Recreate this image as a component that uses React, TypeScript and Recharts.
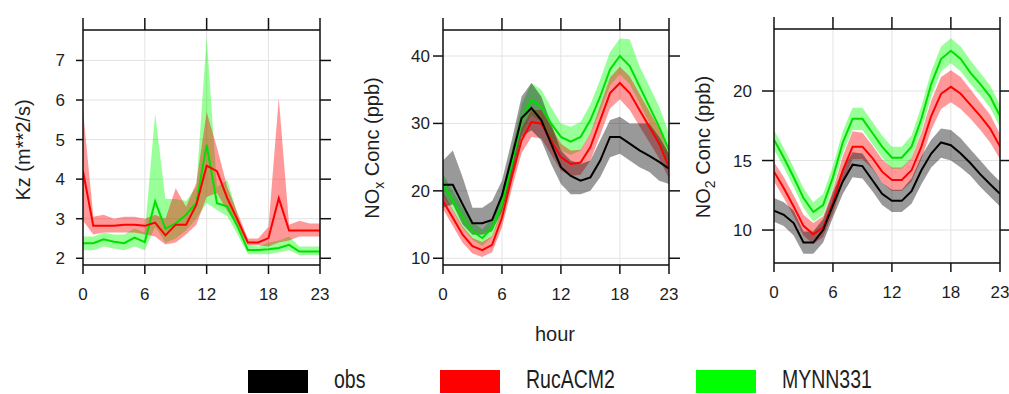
import React from 'react';
import { ComposedChart, Area, Line, XAxis, YAxis, CartesianGrid } from 'recharts';

const hours = [0, 1, 2, 3, 4, 5, 6, 7, 8, 9, 10, 11, 12, 13, 14, 15, 16, 17, 18, 19, 20, 21, 22, 23];
const xTicks = [0, 6, 12, 18, 23];
const kzTicks = [2, 3, 4, 5, 6, 7];
const noxTicks = [10, 20, 30, 40];
const no2Ticks = [10, 15, 20];

// Kz panel
const kzRuc = [4.2, 2.82, 2.82, 2.82, 2.85, 2.85, 2.82, 2.9, 2.58, 2.85, 2.85, 3.35, 4.34, 4.2, 3.52, 2.97, 2.4, 2.4, 2.51, 3.52, 2.7, 2.7, 2.7, 2.7];
const kzRucLo = [2.95, 2.6, 2.65, 2.65, 2.65, 2.65, 2.6, 2.55, 2.35, 2.4, 2.6, 2.85, 3.55, 3.65, 3.2, 2.8, 2.33, 2.33, 2.3, 2.4, 2.45, 2.55, 2.55, 2.55];
const kzRucHi = [5.75, 3.05, 3.1, 3.0, 3.05, 3.05, 3.0, 3.1, 3.0, 3.77, 3.3, 3.9, 5.7, 4.8, 3.8, 3.15, 2.5, 2.5, 2.8, 6.05, 2.85, 2.95, 2.88, 2.88];
const kzMynn = [2.38, 2.38, 2.48, 2.42, 2.38, 2.52, 2.41, 3.44, 2.75, 2.88, 3.1, 3.4, 4.87, 3.39, 3.31, 2.8, 2.21, 2.21, 2.23, 2.26, 2.34, 2.17, 2.17, 2.17];
const kzMynnLo = [2.2, 2.2, 2.3, 2.25, 2.2, 2.3, 2.2, 2.8, 2.39, 2.5, 2.7, 3.0, 3.4, 3.22, 3.06, 2.6, 2.1, 2.1, 2.1, 2.15, 2.2, 2.08, 2.08, 2.08];
const kzMynnHi = [2.55, 2.55, 2.65, 2.6, 2.6, 2.75, 2.65, 5.65, 3.5, 3.5, 3.45, 3.8, 7.6, 3.81, 3.98, 3.1, 2.35, 2.3, 2.4, 2.45, 2.55, 2.3, 2.3, 2.3];

// NOx panel
const noxObs = [20.9, 20.9, 18.0, 15.2, 15.2, 15.7, 19.3, 25.0, 30.8, 32.3, 30.5, 27.0, 23.5, 22.2, 21.5, 22.0, 24.5, 28.0, 28.0, 27.0, 26.0, 25.2, 24.3, 23.3];
const noxObsLo = [17.5, 18.0, 15.0, 13.5, 13.5, 14.0, 17.0, 22.0, 28.0, 29.0, 27.5, 24.0, 21.0, 19.5, 19.5, 20.0, 22.0, 25.0, 25.5, 24.5, 23.5, 22.8, 21.5, 21.0];
const noxObsHi = [24.5, 26.0, 22.0, 17.5, 17.5, 18.5, 21.5, 27.5, 34.0, 36.0, 34.0, 30.0, 26.0, 24.5, 24.0, 24.5, 27.5, 30.5, 31.0, 30.0, 30.0, 30.0, 28.0, 25.5];
const noxRuc = [18.5, 16.0, 13.5, 11.8, 11.2, 12.0, 16.0, 22.0, 27.5, 30.2, 30.0, 27.5, 25.0, 24.0, 24.2, 26.5, 30.5, 34.5, 36.0, 34.5, 32.0, 29.5, 27.0, 23.5];
const noxRucLo = [17.3, 14.8, 12.3, 10.7, 10.2, 10.9, 14.6, 20.3, 25.6, 28.0, 27.8, 25.4, 23.0, 22.2, 22.4, 24.5, 28.3, 32.2, 33.6, 32.0, 29.6, 27.2, 24.8, 21.8];
const noxRucHi = [19.8, 17.2, 14.7, 13.0, 12.4, 13.3, 17.4, 23.6, 29.3, 32.0, 32.0, 29.5, 27.0, 26.0, 26.1, 28.5, 32.7, 36.8, 38.4, 37.0, 34.4, 31.8, 29.2, 25.3];
const noxMynn = [21.0, 18.5, 16.0, 14.0, 13.0, 14.5, 18.0, 24.0, 30.5, 33.5, 32.5, 30.0, 28.0, 27.3, 28.0, 30.5, 34.0, 38.0, 40.0, 38.5, 35.5, 32.5, 29.5, 26.0];
const noxMynnLo = [19.5, 17.0, 14.5, 12.7, 11.8, 13.2, 16.5, 22.2, 28.5, 31.2, 30.2, 27.8, 26.0, 25.3, 26.0, 28.4, 31.8, 35.6, 37.3, 35.8, 33.0, 30.0, 27.0, 24.0];
const noxMynnHi = [22.5, 20.0, 17.5, 15.4, 14.3, 15.9, 19.7, 26.0, 32.8, 36.0, 35.0, 32.4, 30.0, 29.5, 30.2, 32.8, 36.5, 40.6, 42.6, 42.5, 38.5, 35.5, 32.5, 28.5];

// NO2 panel
const no2Obs = [11.4, 11.1, 10.5, 9.1, 9.1, 10.0, 11.8, 13.5, 14.7, 14.6, 13.6, 12.6, 12.1, 12.1, 12.8, 14.3, 15.5, 16.3, 16.1, 15.5, 14.8, 14.0, 13.3, 12.6];
const no2ObsLo = [10.6, 10.3, 9.6, 8.3, 8.3, 9.1, 10.9, 12.6, 13.8, 13.7, 12.8, 11.8, 11.3, 11.3, 11.9, 13.3, 14.5, 15.2, 15.0, 14.5, 13.9, 13.1, 12.4, 11.7];
const no2ObsHi = [12.3, 12.0, 11.4, 9.9, 9.9, 10.8, 12.7, 14.4, 15.6, 15.5, 14.5, 13.4, 12.9, 12.9, 13.7, 15.3, 16.5, 17.3, 17.2, 16.6, 15.8, 15.0, 14.2, 13.5];
const no2Ruc = [14.2, 13.0, 11.7, 10.3, 9.7, 10.2, 12.0, 14.3, 16.0, 16.0, 15.2, 14.2, 13.6, 13.6, 14.3, 16.0, 18.2, 19.8, 20.3, 19.8, 19.0, 18.2, 17.3, 16.0];
const no2RucLo = [13.5, 12.3, 11.0, 9.6, 9.0, 9.5, 11.2, 13.4, 15.1, 15.1, 14.4, 13.4, 12.8, 12.8, 13.5, 15.1, 17.2, 18.7, 19.2, 18.7, 18.0, 17.2, 16.3, 15.1];
const no2RucHi = [14.9, 13.8, 12.5, 11.1, 10.5, 11.0, 12.9, 15.3, 17.1, 17.0, 16.1, 15.1, 14.5, 14.5, 15.2, 17.0, 19.3, 21.0, 21.5, 21.0, 20.1, 19.2, 18.3, 16.9];
const no2Mynn = [16.5, 15.2, 13.8, 12.3, 11.3, 11.8, 13.8, 16.3, 18.0, 18.0, 17.0, 16.0, 15.2, 15.2, 16.0, 18.0, 20.5, 22.3, 22.9, 22.3, 21.3, 20.5, 19.6, 18.2];
const no2MynnLo = [15.8, 14.5, 13.1, 11.6, 10.6, 11.1, 13.0, 15.5, 17.2, 17.2, 16.2, 15.2, 14.4, 14.4, 15.2, 17.1, 19.6, 21.4, 22.0, 21.4, 20.5, 19.7, 18.8, 17.4];
const no2MynnHi = [17.2, 15.9, 14.5, 13.0, 12.0, 12.6, 14.6, 17.1, 18.8, 18.8, 17.8, 16.8, 16.0, 16.0, 16.8, 18.9, 21.4, 23.2, 23.8, 23.2, 22.2, 21.3, 20.4, 19.0];

const legendLabels = ['obs', 'RucACM2', 'MYNN331'];
const legendColors = ['#000000', '#FF0000', '#00FF00'];

const FONT = '"Liberation Sans", Arial, Helvetica, sans-serif';
const TEXT = '#1e1e1e';
const FRAME = '#111111';
const LINE_GREEN = '#00E000';

type Series = { key: string; mid: number[]; lo: number[]; hi: number[]; color: string; line: string };

function buildData(series: Series[]) {
  return hours.map((h, i) => {
    const row: any = { h };
    series.forEach((s) => {
      row[s.key] = s.mid[i];
      row[s.key + 'Band'] = [s.lo[i], s.hi[i]];
    });
    return row;
  });
}

const EmptyTick = () => <g />;

type PanelProps = {
  left: number;
  width: number;
  height: number;
  margin: { top: number; right: number; bottom: number; left: number };
  yWidth: number;
  domain: [number, number];
  yTicks: number[];
  series: Series[];
  yTickSize: number;
  yTickMargin: number;
  xTickMargin: number;
};

function Panel(p: PanelProps) {
  const data = buildData(p.series);
  const tickStyle = { fontSize: 17, fill: TEXT, fontFamily: FONT };
  const lineStyle = { stroke: FRAME, strokeWidth: 1.5 };
  return (
    <div style={{ position: 'absolute', left: p.left, top: 0 }}>
      <ComposedChart width={p.width} height={p.height} data={data} margin={p.margin}>
        <CartesianGrid stroke="#e3e3e3" strokeWidth={1} />
        <XAxis
          dataKey="h"
          type="number"
          domain={[0, 23]}
          ticks={xTicks}
          interval={0}
          allowDataOverflow
          height={40}
          tickSize={9}
          tickMargin={p.xTickMargin}
          tick={tickStyle}
          axisLine={lineStyle}
          tickLine={lineStyle}
        />
        <XAxis
          xAxisId="t"
          orientation="top"
          dataKey="h"
          type="number"
          domain={[0, 23]}
          ticks={xTicks}
          interval={0}
          allowDataOverflow
          height={1}
          tickSize={12}
          tick={EmptyTick}
          axisLine={lineStyle}
          tickLine={lineStyle}
        />
        <YAxis
          type="number"
          domain={p.domain}
          ticks={p.yTicks}
          interval={0}
          allowDataOverflow
          width={p.yWidth}
          tickSize={p.yTickSize}
          tickMargin={p.yTickMargin}
          tick={tickStyle}
          axisLine={lineStyle}
          tickLine={lineStyle}
        />
        <YAxis
          yAxisId="r"
          orientation="right"
          type="number"
          domain={p.domain}
          ticks={p.yTicks}
          interval={0}
          allowDataOverflow
          width={1}
          tickSize={11}
          tick={EmptyTick}
          axisLine={lineStyle}
          tickLine={lineStyle}
        />
        {p.series.map((s) => (
          <Area
            key={s.key + 'Band'}
            type="linear"
            dataKey={s.key + 'Band'}
            stroke="none"
            fill={s.color}
            fillOpacity={0.4}
            isAnimationActive={false}
            activeDot={false}
          />
        ))}
        {p.series.map((s) => (
          <Line
            key={s.key}
            type="linear"
            dataKey={s.key}
            stroke={s.line}
            strokeWidth={2}
            dot={false}
            activeDot={false}
            isAnimationActive={false}
          />
        ))}
        <Line
          xAxisId="t"
          yAxisId="r"
          type="linear"
          dataKey={p.series[0].key}
          stroke="none"
          dot={false}
          activeDot={false}
          legendType="none"
          isAnimationActive={false}
        />
      </ComposedChart>
    </div>
  );
}

const kzSeries: Series[] = [
  { key: 'mynn', mid: kzMynn, lo: kzMynnLo, hi: kzMynnHi, color: '#00FF00', line: LINE_GREEN },
  { key: 'ruc', mid: kzRuc, lo: kzRucLo, hi: kzRucHi, color: '#FF0000', line: '#FF0000' },
];
const noxSeries: Series[] = [
  { key: 'mynn', mid: noxMynn, lo: noxMynnLo, hi: noxMynnHi, color: '#00FF00', line: LINE_GREEN },
  { key: 'ruc', mid: noxRuc, lo: noxRucLo, hi: noxRucHi, color: '#FF0000', line: '#FF0000' },
  { key: 'obs', mid: noxObs, lo: noxObsLo, hi: noxObsHi, color: '#000000', line: '#000000' },
];
const no2Series: Series[] = [
  { key: 'mynn', mid: no2Mynn, lo: no2MynnLo, hi: no2MynnHi, color: '#00FF00', line: LINE_GREEN },
  { key: 'ruc', mid: no2Ruc, lo: no2RucLo, hi: no2RucHi, color: '#FF0000', line: '#FF0000' },
  { key: 'obs', mid: no2Obs, lo: no2ObsLo, hi: no2ObsHi, color: '#000000', line: '#000000' },
];

const legendX = [248, 440, 696];

export default function App() {
  return (
    <div
      style={{
        position: 'absolute',
        left: 0,
        top: 0,
        width: 1009,
        height: 394,
        background: '#ffffff',
        overflow: 'hidden',
        fontFamily: FONT,
      }}
    >
      <Panel
        left={0}
        width={340}
        height={320}
        margin={{ top: 29, right: 19, bottom: 15, left: 0 }}
        yWidth={83}
        domain={[1.83, 7.77]}
        yTicks={kzTicks}
        series={kzSeries}
        yTickSize={7}
        yTickMargin={11}
        xTickMargin={14}
      />
      <Panel
        left={340}
        width={340}
        height={320}
        margin={{ top: 29, right: 10, bottom: 15, left: 0 }}
        yWidth={103}
        domain={[9.0, 43.86]}
        yTicks={noxTicks}
        series={noxSeries}
        yTickSize={10}
        yTickMargin={3}
        xTickMargin={14}
      />
      <Panel
        left={680}
        width={329}
        height={320}
        margin={{ top: 28, right: 8, bottom: 17, left: 0 }}
        yWidth={94}
        domain={[7.63, 24.46]}
        yTicks={no2Ticks}
        series={no2Series}
        yTickSize={12}
        yTickMargin={10}
        xTickMargin={14}
      />
      <svg
        width={1009}
        height={394}
        style={{ position: 'absolute', left: 0, top: 0, pointerEvents: 'none' }}
        fontFamily={FONT}
      >
        <text transform="translate(30,150) rotate(-90)" textAnchor="middle" fontSize={20} fill={TEXT}>
          Kz (m**2/s)
        </text>
        <text transform="translate(379,148) rotate(-90)" textAnchor="middle" fontSize={20} fill={TEXT}>
          NO
          <tspan fontSize={14} dy={5}>x</tspan>
          <tspan dy={-5}> Conc (ppb)</tspan>
        </text>
        <text transform="translate(710,147) rotate(-90)" textAnchor="middle" fontSize={20} fill={TEXT}>
          NO
          <tspan fontSize={14} dy={5}>2</tspan>
          <tspan dy={-5}> Conc (ppb)</tspan>
        </text>
        <text x={555} y={341} textAnchor="middle" fontSize={20} fill={TEXT}>
          hour
        </text>
        {legendLabels.map((lab, i) => (
          <g key={lab}>
            <rect x={legendX[i]} y={370} width={60} height={23} fill={legendColors[i]} />
            <text
              transform={`translate(${legendX[i] + 86},388) scale(1,1.28)`}
              fontSize={19.5}
              fill={TEXT}
            >
              {lab}
            </text>
          </g>
        ))}
      </svg>
    </div>
  );
}
